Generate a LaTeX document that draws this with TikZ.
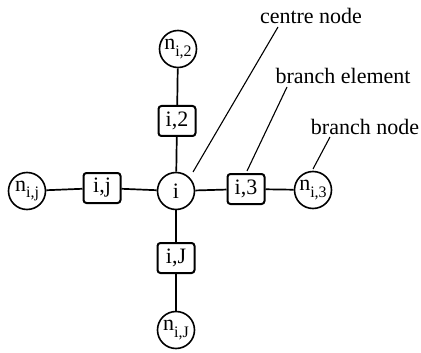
\documentclass[tikz,border=0pt]{standalone}
\usepackage{fontspec}
\setmainfont{Liberation Serif}
\newcommand{\nsub}[1]{n\raisebox{-0.3em}{\fontsize{16}{16}\selectfont #1}}
\begin{document}
\begin{tikzpicture}[x=1pt,y=-1pt,
  every node/.style={font=\fontsize{22}{24}\selectfont},
  nodecirc/.style={circle,draw,line width=1.6pt,minimum size=37pt,inner sep=0pt},
  elembox/.style={rectangle,rounded corners=3pt,draw,line width=2pt,minimum width=37pt,minimum height=30pt,inner sep=0pt},
  conn/.style={line width=1.7pt},
  leader/.style={line width=1.1pt},
  lbl/.style={inner sep=0pt}]
\useasboundingbox (0,0) rectangle (421,353);
\node[nodecirc] (c) at (176,191) {i};
\node[nodecirc] (n2) at (178,49) {\nsub{i,2}};
\node[elembox] (e2) at (177,121) {i,2};
\node[elembox] (ej) at (102,188) {i,j};
\node[nodecirc] (nj) at (27,191) {\nsub{i,j}};
\node[elembox] (e3) at (246,189) {i,3};
\node[nodecirc] (n3) at (313,190) {\nsub{i,3}};
\node[elembox] (eJ) at (176,258) {i,J};
\node[nodecirc] (nJ) at (176,330) {\nsub{i,J}};
\draw[conn] (n2) -- (e2);
\draw[conn] (e2) -- (c);
\draw[conn] (nj) -- (ej);
\draw[conn] (ej) -- (c);
\draw[conn] (c) -- (e3);
\draw[conn] (e3) -- (n3);
\draw[conn] (c) -- (eJ);
\draw[conn] (eJ) -- (nJ);
\node[lbl] (lc) at (311,16) {centre node};
\node[lbl] (le) at (343,76) {branch element};
\node[lbl] (ln) at (365,127) {branch node};
\coordinate (lcs) at (278,27);
\coordinate (lct) at (193,172);
\coordinate (les) at (287,87);
\coordinate (let) at (247,171);
\coordinate (lns) at (330,137);
\coordinate (lnt) at (313,169);
\draw[leader] (lcs) -- (lct);
\draw[leader] (les) -- (let);
\draw[leader] (lns) -- (lnt);
\end{tikzpicture}
\end{document}
